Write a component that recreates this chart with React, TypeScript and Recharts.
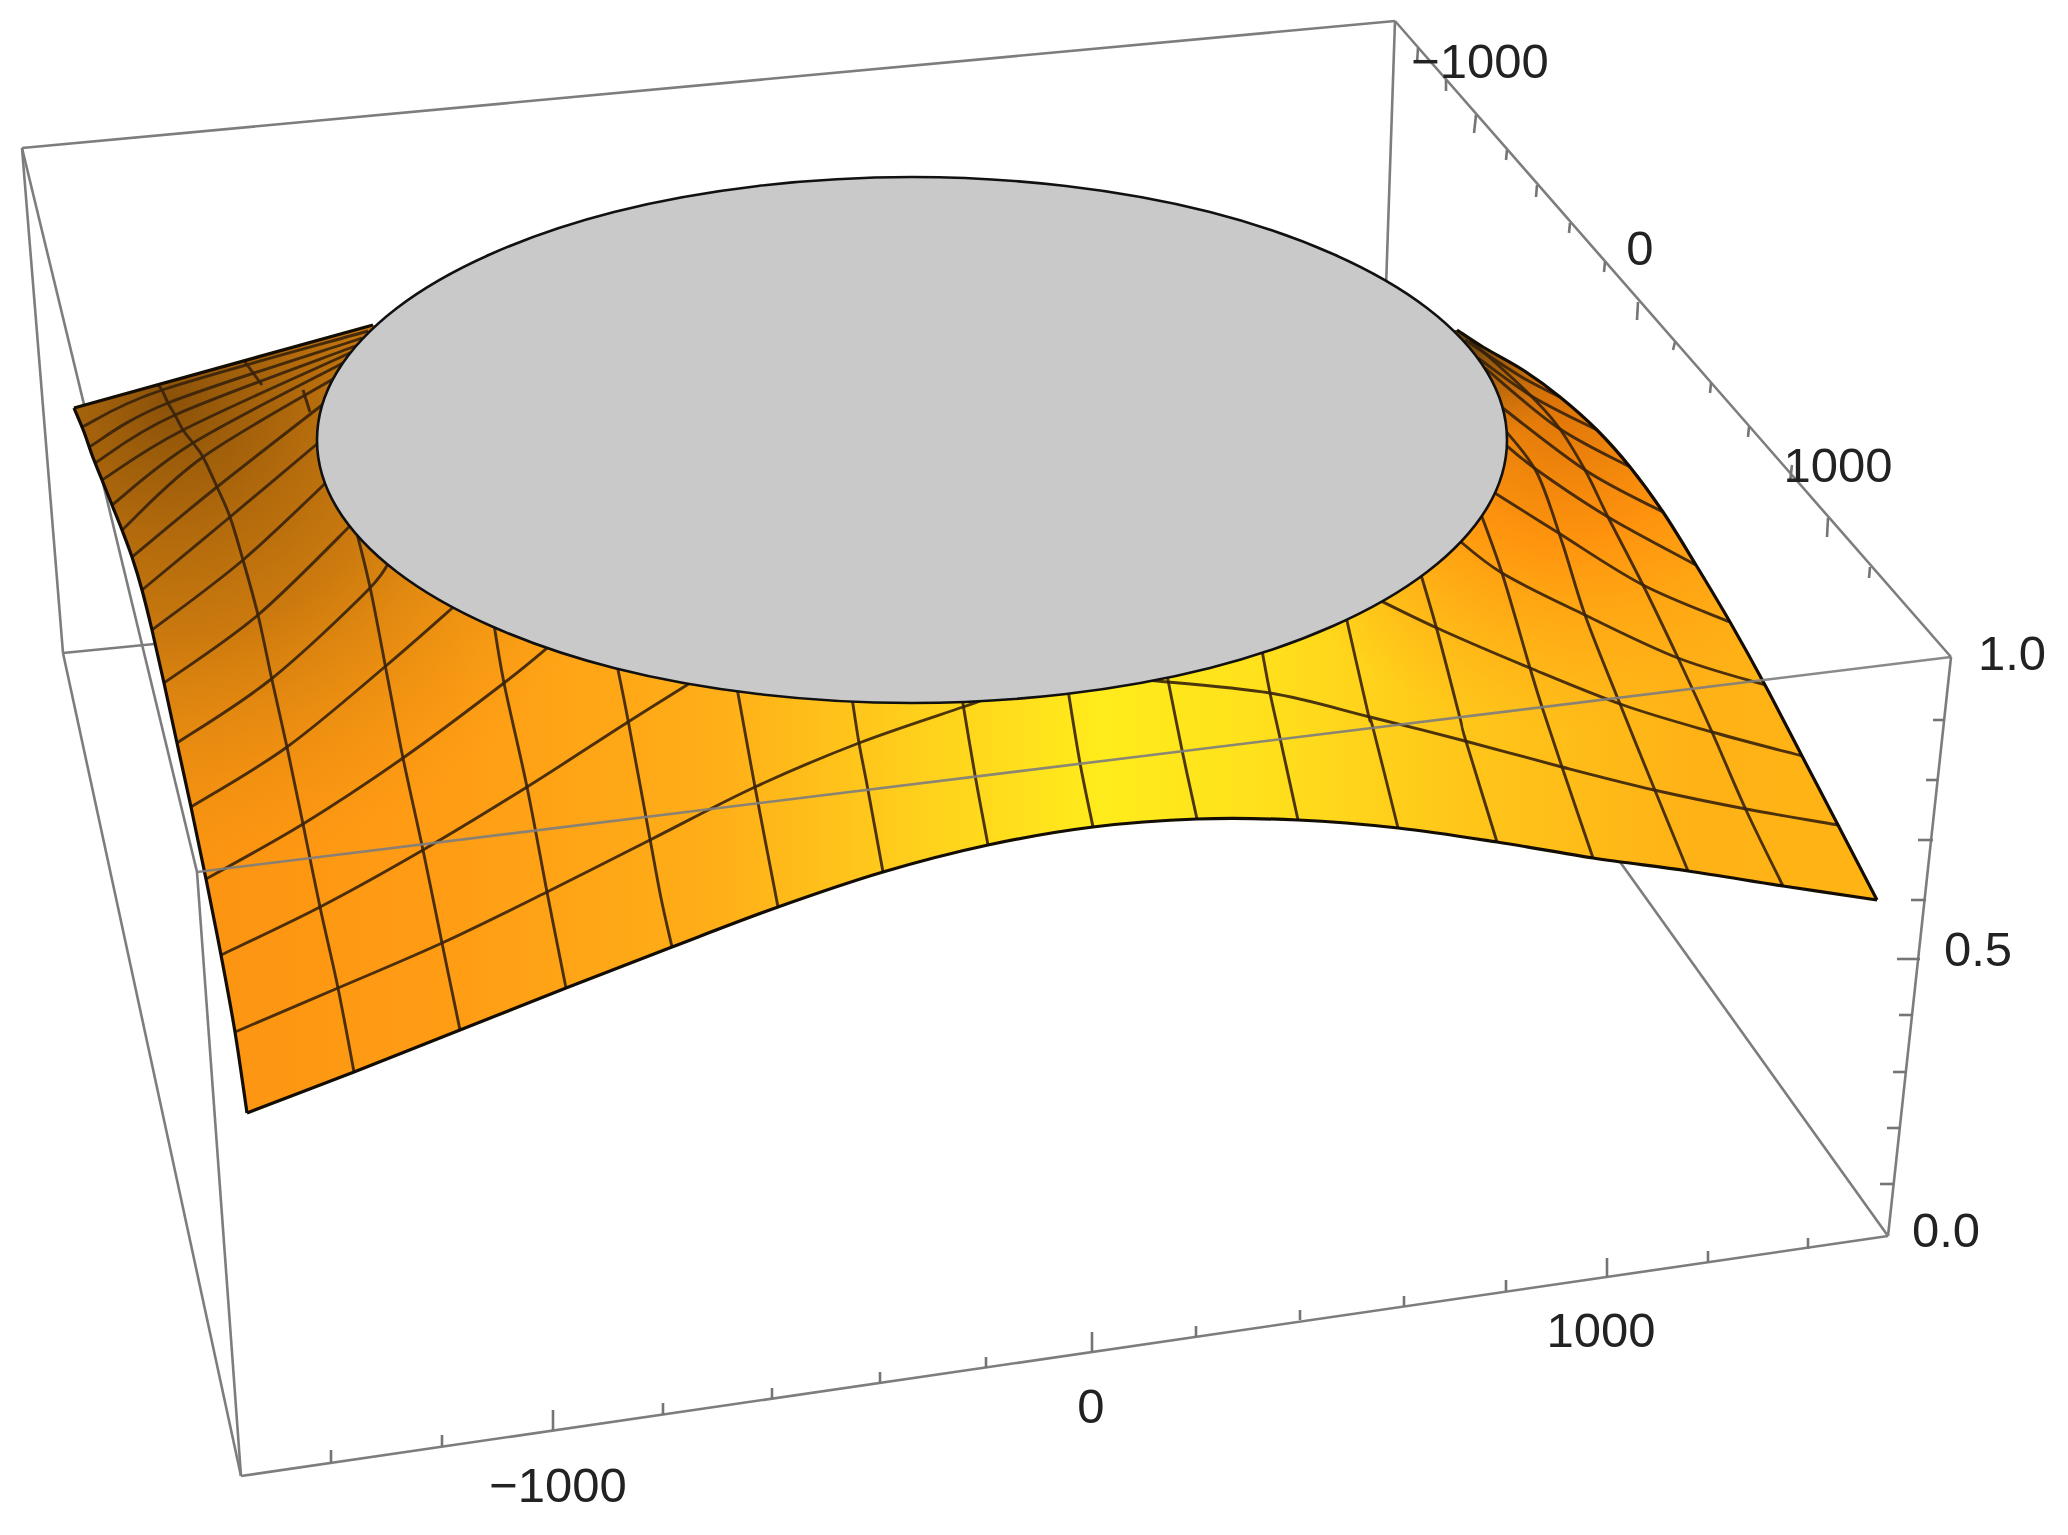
import React from 'react';
import { ScatterChart, Scatter, XAxis, YAxis } from 'recharts';

type Pt = [number, number];

const WIDTH = 2068;
const HEIGHT = 1535;

// box corners
const boxTopLeft: Pt = [22, 148];
const boxTopBack: Pt = [1395, 21];
const boxTopRight: Pt = [1951, 657];
const boxTopFront: Pt = [197, 872];
const boxBottomFront: Pt = [241, 1476];
const boxBottomRight: Pt = [1888, 1236];
const boxBottomLeft: Pt = [63, 653];
const boxBottomBack: Pt = [1378, 524];

const backEdges: Pt[][] = [
  [boxTopLeft, boxTopBack],
  [boxTopBack, boxBottomBack],
  [boxBottomLeft, boxBottomBack],
  [boxBottomRight, boxBottomBack],
  [boxTopLeft, boxBottomLeft],
  [boxTopLeft, boxTopFront],
  [boxTopBack, boxTopRight],
  [boxTopRight, boxBottomRight],
  [boxBottomFront, boxBottomRight],
  [boxTopFront, boxBottomFront],
  [boxBottomLeft, boxBottomFront],
];
const frontEdges: Pt[][] = [[boxTopRight, boxTopFront]];

// surface outline
const frontEdge: Pt[] = [
  [247, 1113], [354, 1072], [460, 1030], [566, 988], [672, 947], [778, 907], [883, 872], [988, 845],
  [1093, 827], [1197, 819], [1298, 820], [1398, 828], [1497, 842], [1593, 858], [1688, 871], [1783, 886], [1877, 900],
];
const rightEdge: Pt[] = [
  [1877, 900], [1838, 825], [1802, 756], [1765, 685], [1730, 622], [1696, 565], [1663, 512], [1630, 467],
  [1597, 430], [1560, 397], [1523, 370], [1483, 347], [1457, 330],
];
const backEdge: Pt[] = [[373, 325], [74, 408]];
const leftEdge: Pt[] = [
  [74, 408], [84, 432], [92, 455], [102, 480], [112, 505], [122, 530], [132, 557], [142, 590],
  [152, 630], [164, 683], [177, 743], [191, 807], [206, 879], [221, 955], [235, 1032], [247, 1113],
];

// mesh lines running left to right
const longLines: Pt[][] = [
  [[235, 1032], [338, 988], [442, 943], [547, 892], [650, 840], [755, 787], [859, 743], [963, 707], [985, 699]],
  [[1146, 680], [1270, 693], [1370, 717], [1465, 741], [1562, 767], [1654, 790], [1746, 809], [1838, 825]],
  [[221, 955], [320, 907], [423, 850], [527, 787], [628, 722], [695, 680]],
  [[1365, 593], [1437, 628], [1530, 668], [1623, 705], [1712, 732], [1802, 756]],
  [[206, 879], [303, 824], [403, 758], [504, 683], [553, 643]],
  [[1455, 537], [1502, 573], [1585, 615], [1678, 658], [1765, 685]],
  [[191, 807], [287, 747], [387, 665], [458, 603]],
  [[1490, 490], [1557, 532], [1643, 585], [1730, 622]],
  [[177, 743], [270, 680], [368, 590], [392, 556]],
  [[1500, 440], [1537, 470], [1608, 517], [1696, 565]],
  [[164, 683], [258, 615], [358, 518]],
  [[1495, 402], [1585, 470], [1663, 512]],
  [[152, 630], [243, 560], [335, 474]],
  [[1485, 368], [1557, 427], [1630, 467]],
  [[142, 590], [230, 517], [330, 433]],
  [[1478, 358], [1533, 397], [1597, 430]],
  [[132, 557], [217, 487], [335, 395]],
  [[1465, 340], [1520, 376], [1560, 397]],
  [[122, 530], [203, 457], [340, 375]],
  [[112, 505], [193, 443], [345, 362]],
  [[102, 480], [183, 430], [352, 352]],
  [[95, 463], [175, 415], [358, 345]],
  [[89, 447], [168, 403], [362, 338]],
  [[82, 427], [162, 390], [368, 331]],
];

// mesh lines running from the front edge to the back
const crossLines: Pt[][] = [
  [[354, 1072], [338, 988], [320, 907], [303, 824], [287, 747], [272, 680], [258, 615], [243, 560], [230, 517], [217, 487], [203, 457], [193, 443], [183, 430], [175, 415], [168, 403], [162, 390], [158, 385]],
  [[460, 1030], [442, 943], [423, 850], [403, 758], [388, 680], [370, 587], [354, 522]],
  [[245, 362], [262, 385]],
  [[303, 390], [310, 412]],
  [[566, 988], [547, 892], [527, 787], [504, 683], [493, 618]],
  [[672, 947], [661, 898], [650, 839], [628, 720], [616, 660]],
  [[778, 907], [755, 787], [737, 688]],
  [[883, 872], [868, 790], [859, 743], [852, 698]],
  [[988, 845], [975, 775], [962, 698]],
  [[1093, 827], [1080, 763], [1068, 690]],
  [[1197, 819], [1182, 750], [1167, 675]],
  [[1298, 820], [1280, 738], [1270, 693], [1261, 645]],
  [[1398, 828], [1373, 728], [1368, 713], [1345, 612]],
  [[1497, 842], [1465, 738], [1460, 718], [1437, 630], [1419, 568]],
  [[1593, 858], [1562, 767], [1542, 707], [1530, 668], [1502, 573], [1478, 506]],
  [[1688, 871], [1654, 788], [1618, 699], [1585, 615], [1562, 542], [1537, 473], [1505, 430]],
  [[1783, 886], [1746, 810], [1712, 732], [1679, 660], [1643, 585], [1608, 517], [1585, 470], [1557, 425], [1525, 390], [1470, 340]],
];

// rim of the flat top
const plateauRim: Pt[] = [
  [1507, 440], [1487, 508], [1427, 572], [1333, 626], [1210, 668], [1066, 694], [912, 703], [758, 694],
  [614, 668], [491, 626], [397, 572], [337, 508], [317, 440], [337, 372], [397, 308], [491, 254],
  [614, 212], [758, 186], [912, 177], [1066, 186], [1210, 212], [1333, 254], [1427, 308], [1487, 372],
];

// tick marks: start on the axis, end at the tip
const bottomTicks: number[][] = [
  [331, 1463, 331, 1450], [442, 1446, 442, 1435], [553, 1430, 553, 1410], [663, 1415, 663, 1403],
  [772, 1399, 772, 1388], [880, 1383, 880, 1372], [986, 1368, 986, 1357], [1092, 1352, 1092, 1332],
  [1196, 1337, 1196, 1326], [1300, 1320, 1300, 1310], [1404, 1306, 1404, 1296], [1506, 1291, 1506, 1280],
  [1607, 1277, 1607, 1258], [1708, 1263, 1708, 1251], [1808, 1249, 1808, 1238],
];
const sideTicks: number[][] = [
  [1944, 720, 1933, 720], [1938, 780, 1926, 780], [1933, 840, 1918, 840], [1926, 900, 1911, 900],
  [1920, 959, 1897, 959], [1913, 1015, 1899, 1015], [1906, 1072, 1893, 1072], [1900, 1128, 1887, 1128],
  [1894, 1184, 1880, 1184],
];
const backTicks: number[][] = [
  [1418, 48, 1417, 63], [1446, 80, 1446, 91], [1476, 115, 1474, 133], [1507, 150, 1506, 160],
  [1537, 185, 1536, 197], [1570, 223, 1569, 233], [1605, 262, 1604, 272], [1638, 302, 1637, 320],
  [1675, 342, 1673, 350], [1711, 383, 1710, 393], [1749, 427, 1748, 437], [1792, 465, 1790, 482],
  [1828, 518, 1827, 537], [1870, 567, 1869, 578],
];

const axisLabels = [
  { x: 1480, y: 78, text: '\u22121000' },
  { x: 1640, y: 265, text: '0' },
  { x: 1838, y: 482, text: '1000' },
  { x: 2012, y: 670, text: '1.0' },
  { x: 1978, y: 966, text: '0.5' },
  { x: 1946, y: 1247, text: '0.0' },
  { x: 558, y: 1502, text: '\u22121000' },
  { x: 1091, y: 1423, text: '0' },
  { x: 1601, y: 1347, text: '1000' },
];

const rows = (pts: Pt[]) => pts.map(([x, y]) => ({ x, y }));

const straight = (p: any[], close = false) =>
  p.map((q, i) => `${i ? 'L' : 'M'}${q.x} ${q.y}`).join('') + (close ? 'Z' : '');

// catmull-rom through the read points so the curves are not faceted
const smooth = (p: any[], close = false) => {
  if (p.length < 3) return straight(p, close);
  const n = p.length;
  const at = (i: number) => (close ? p[(i + n) % n] : p[Math.max(0, Math.min(n - 1, i))]);
  let d = `M${p[0].x} ${p[0].y}`;
  for (let i = 0; i < (close ? n : n - 1); i++) {
    const [a, b, c, e] = [at(i - 1), at(i), at(i + 1), at(i + 2)];
    d += `C${b.x + (c.x - a.x) / 6} ${b.y + (c.y - a.y) / 6} ${c.x - (e.x - b.x) / 6} ${c.y - (e.y - b.y) / 6} ${c.x} ${c.y}`;
  }
  return d + (close ? 'Z' : '');
};

const noDot = () => <g />;

const drawPath = (key: string, pts: Pt[], style: React.SVGProps<SVGPathElement>, curve = true, close = false) => (
  <Scatter
    key={key}
    data={rows(pts)}
    shape={noDot}
    isAnimationActive={false}
    line={(props: any) => (
      <path d={(curve ? smooth : straight)(props.points, close)} fill="none" strokeLinejoin="round" {...style} />
    )}
  />
);

const boxStyle = { stroke: '#7d7d7d', strokeWidth: 2.6 };
const tickStyle = { stroke: '#757575', strokeWidth: 2.6 };
const meshStyle = { stroke: '#38220a', strokeOpacity: 0.9, strokeWidth: 2.9 };
const edgeStyle = { stroke: '#140d04', strokeWidth: 3.2 };

const silhouette: Pt[] = [...frontEdge, ...rightEdge.slice(1), ...backEdge, ...leftEdge.slice(1, -1)];

const labelShape = (props: any) => (
  <text x={props.cx} y={props.cy} textAnchor="middle" fontFamily="Liberation Sans" fontSize={49} fill="#222">
    {props.payload.text}
  </text>
);

const tickSeg = (t: number[]): Pt[] => [[t[0], t[1]], [t[2], t[3]]];

export default function App() {
  return (
    <div style={{ position: 'absolute', left: 0, top: 0, width: WIDTH, height: HEIGHT, background: '#fff' }}>
      <ScatterChart width={WIDTH} height={HEIGHT} margin={{ top: 0, right: 0, bottom: 0, left: 0 }}>
        <defs>
          <linearGradient id="surfaceBase" gradientUnits="userSpaceOnUse" x1="74" y1="0" x2="1877" y2="0">
            <stop offset="0" stopColor="#f59312" />
            <stop offset="0.1" stopColor="#fd9612" />
            <stop offset="0.2" stopColor="#ff9c14" />
            <stop offset="0.35" stopColor="#ffad18" />
            <stop offset="0.47" stopColor="#ffd01c" />
            <stop offset="0.57" stopColor="#ffec1c" />
            <stop offset="0.66" stopColor="#ffe01c" />
            <stop offset="0.76" stopColor="#ffc81a" />
            <stop offset="0.9" stopColor="#ffb216" />
            <stop offset="1" stopColor="#ffb414" />
          </linearGradient>
          <radialGradient id="leftShade" gradientUnits="userSpaceOnUse" cx="170" cy="400" r="470">
            <stop offset="0" stopColor="#7e4a08" stopOpacity="0.9" />
            <stop offset="0.5" stopColor="#b06a0c" stopOpacity="0.65" />
            <stop offset="1" stopColor="#e08a10" stopOpacity="0" />
          </radialGradient>
          <radialGradient id="rightShade" gradientUnits="userSpaceOnUse" cx="1560" cy="390" r="340">
            <stop offset="0" stopColor="#d86e08" stopOpacity="0.95" />
            <stop offset="0.45" stopColor="#ff8c0c" stopOpacity="0.85" />
            <stop offset="1" stopColor="#ffa416" stopOpacity="0" />
          </radialGradient>
          <radialGradient id="tipShade" gradientUnits="userSpaceOnUse" cx="1470" cy="335" r="110">
            <stop offset="0" stopColor="#5a3a10" stopOpacity="0.95" />
            <stop offset="1" stopColor="#a05a0c" stopOpacity="0" />
          </radialGradient>
        </defs>
        <XAxis type="number" dataKey="x" domain={[0, WIDTH]} hide />
        <YAxis type="number" dataKey="y" domain={[0, HEIGHT]} reversed hide />

        {backEdges.map((e, i) => drawPath(`box-${i}`, e, boxStyle, false))}

        {drawPath('fill-base', silhouette, { fill: 'url(#surfaceBase)' }, false, true)}
        {drawPath('fill-left', silhouette, { fill: 'url(#leftShade)' }, false, true)}
        {drawPath('fill-right', silhouette, { fill: 'url(#rightShade)' }, false, true)}
        {drawPath('fill-tip', silhouette, { fill: 'url(#tipShade)' }, false, true)}

        {longLines.map((l, i) => drawPath(`long-${i}`, l, meshStyle))}
        {crossLines.map((l, i) => drawPath(`cross-${i}`, l, meshStyle))}

        {drawPath('edge-front', frontEdge, edgeStyle)}
        {drawPath('edge-right', rightEdge, edgeStyle)}
        {drawPath('edge-back', backEdge, edgeStyle, false)}
        {drawPath('edge-left', leftEdge, edgeStyle)}

        {drawPath('rim', plateauRim, { fill: '#c9c9c9', stroke: '#111', strokeWidth: 2.6 }, true, true)}

        {frontEdges.map((e, i) => drawPath(`front-${i}`, e, { stroke: '#7d7d7d', strokeOpacity: 0.9, strokeWidth: 2.6 }, false))}

        {bottomTicks.map((t, i) => drawPath(`tb-${i}`, tickSeg(t), tickStyle, false))}
        {sideTicks.map((t, i) => drawPath(`ts-${i}`, tickSeg(t), tickStyle, false))}
        {backTicks.map((t, i) => drawPath(`tk-${i}`, tickSeg(t), tickStyle, false))}

        <Scatter data={axisLabels} shape={labelShape} isAnimationActive={false} />
      </ScatterChart>
    </div>
  );
}
